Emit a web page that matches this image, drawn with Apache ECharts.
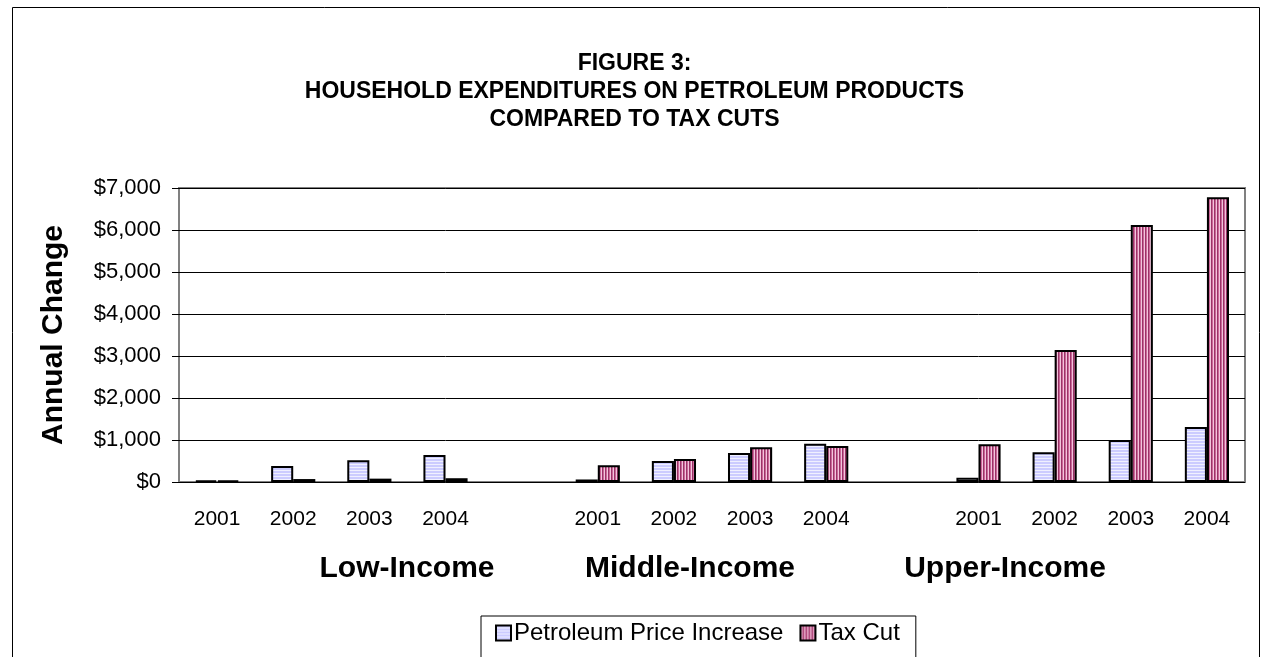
<!DOCTYPE html>
<html>
<head>
<meta charset="utf-8">
<script src="https://cdn.jsdelivr.net/npm/echarts@6/dist/echarts.min.js"></script>
<style>
  html, body { margin: 0; padding: 0; background: #fff; }
  #main { width: 1269px; height: 657px; }
</style>
</head>
<body>
<div id="main"></div>
<script>
// 数据
const years = ['2001', '2002', '2003', '2004', '', '2001', '2002', '2003', '2004', '', '2001', '2002', '2003', '2004']
const groupNames = ['Low-Income', 'Middle-Income', 'Upper-Income']
const petroleum = [40, 380, 520, 640, null, 60, 500, 690, 910, null, 100, 710, 1000, 1310]
const taxCut = [40, 70, 80, 90, null, 400, 550, 830, 860, null, 900, 3140, 6120, 6780]
const yTicks = [0, 1000, 2000, 3000, 4000, 5000, 6000, 7000]

const font = 'Liberation Sans, Arial, sans-serif'

// 条纹填充
const makeStripe = (colors, horizontal) => {
  const c = document.createElement('canvas')
  c.width = horizontal ? 4 : colors.length
  c.height = horizontal ? colors.length : 4
  const ctx = c.getContext('2d')
  colors.forEach((col, i) => {
    ctx.fillStyle = col
    if (horizontal) ctx.fillRect(0, i, 4, 1)
    else ctx.fillRect(i, 0, 1, 4)
  })
  return c
}

const petroFill = { image: makeStripe(['#ccccff', '#ccccff', '#f0f0ff'], true), repeat: 'repeat' }
const taxFill = { image: makeStripe(['#cc6699', '#f2c4dc', '#993366'], false), repeat: 'repeat' }

const chart = echarts.init(document.getElementById('main'))

const option = {
  animation: false,
  backgroundColor: '#fff',
  title: {
    text: 'FIGURE 3:\nHOUSEHOLD EXPENDITURES ON PETROLEUM PRODUCTS\nCOMPARED TO TAX CUTS',
    left: 'center',
    top: 45,
    textStyle: {
      fontFamily: font,
      fontSize: 23,
      fontWeight: 'bold',
      lineHeight: 28,
      color: '#000'
    }
  },
  grid: {
    left: 179,
    top: 188,
    right: 24,
    bottom: 175,
    show: true,
    borderColor: '#808080',
    borderWidth: 2
  },
  legend: {
    bottom: -28,
    left: 481,
    itemWidth: 15,
    itemHeight: 15,
    itemGap: 16,
    padding: [5, 16, 40, 14],
    borderColor: '#000',
    borderWidth: 1,
    textStyle: { fontFamily: font, fontSize: 24, color: '#000', padding: [0, 0, 0, -2] },
    data: [
      { name: 'Petroleum Price Increase', icon: 'rect' },
      { name: 'Tax Cut', icon: 'rect' }
    ]
  },
  xAxis: {
    type: 'category',
    data: years,
    axisLine: { show: false },
    axisTick: { show: false },
    axisLabel: {
      interval: 0,
      margin: 27,
      fontFamily: font,
      fontSize: 21,
      color: '#000'
    }
  },
  yAxis: {
    type: 'value',
    min: 0,
    max: 7000,
    interval: 1000,
    name: 'Annual Change',
    nameLocation: 'middle',
    nameGap: 110,
    nameTextStyle: { fontFamily: font, fontSize: 30, fontWeight: 'bold', color: '#000' },
    axisLine: { show: false },
    axisTick: { show: true, length: 7, lineStyle: { color: '#000' } },
    splitLine: { lineStyle: { color: '#000', width: 1 } },
    axisLabel: {
      margin: 18,
      fontFamily: font,
      fontSize: 22,
      color: '#000',
      formatter: v => yTicks.includes(v) ? '$' + v.toLocaleString('en-US') : ''
    }
  },
  series: [
    {
      name: 'Petroleum Price Increase',
      type: 'bar',
      data: petroleum,
      barWidth: '29%',
      barGap: '0%',
      itemStyle: { color: petroFill, borderColor: '#000', borderWidth: 2 }
    },
    {
      name: 'Tax Cut',
      type: 'bar',
      data: taxCut,
      barWidth: '29%',
      barGap: '0%',
      itemStyle: { color: taxFill, borderColor: '#000', borderWidth: 2 }
    }
  ],
  graphic: [
    {
      type: 'rect',
      left: 10,
      top: 5,
      shape: { width: 1247, height: 700 },
      style: { fill: 'none', stroke: '#000', lineWidth: 1 },
      silent: true
    }
  ].concat(groupNames.map((g, i) => ({
    type: 'text',
    x: [407, 690, 1005][i],
    y: 569,
    style: {
      text: g,
      fontFamily: font,
      fontSize: 30,
      fontWeight: 'bold',
      fill: '#000',
      textAlign: 'center',
      textVerticalAlign: 'middle'
    }
  })))
}

chart.setOption(option)
</script>
</body>
</html>
